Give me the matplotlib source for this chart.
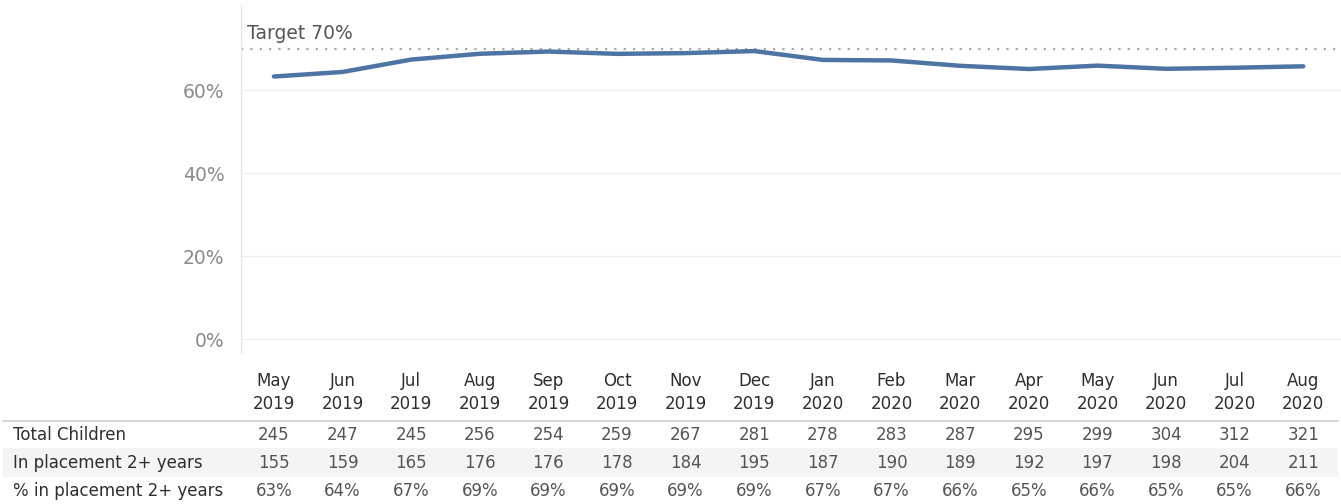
import matplotlib
matplotlib.use("Agg")
import matplotlib.pyplot as plt
import matplotlib.transforms as mtrans

months = ["May", "Jun", "Jul", "Aug", "Sep", "Oct", "Nov", "Dec",
          "Jan", "Feb", "Mar", "Apr", "May", "Jun", "Jul", "Aug"]
years = ["2019"] * 8 + ["2020"] * 8
total_children = [245, 247, 245, 256, 254, 259, 267, 281, 278, 283, 287, 295, 299, 304, 312, 321]
in_placement = [155, 159, 165, 176, 176, 178, 184, 195, 187, 190, 189, 192, 197, 198, 204, 211]
pct_placement = [63.27, 64.37, 67.35, 68.75, 69.29, 68.73, 68.91, 69.40,
                 67.27, 67.14, 65.85, 65.08, 65.89, 65.13, 65.38, 65.73]
pct_labels = ["63%", "64%", "67%", "69%", "69%", "69%", "69%", "69%",
              "67%", "67%", "66%", "65%", "66%", "65%", "65%", "66%"]
target = 70
yticks = [0, 20, 40, 60]

plt.rcParams['font.family'] = ['DejaVu Sans']

W, H = 1341, 504
fig = plt.figure(figsize=(W / 100, H / 100), dpi=100)

def fy(py):
    return 1 - py / H

ax = fig.add_axes([241 / W, fy(352), 1 - 241 / W, fy(5) - fy(352)])
x = list(range(len(months)))
ax.set_xlim(-0.48, 15.55)
ax.set_ylim(-3.1, 80.5)

for t in yticks:
    ax.axhline(t, color="#efefef", lw=1, zorder=0)
ax.axhline(target, color="#a8a8a8", lw=1.6, ls=(0, (1, 3.2)), zorder=1)
ax.plot(x, pct_placement, color="#4e74a4", lw=3.2, solid_capstyle="round", zorder=3)

ax.text(0.005, 71.4, "Target 70%", transform=mtrans.blended_transform_factory(ax.transAxes, ax.transData),
        fontsize=13.5, color="#555555", ha="left", va="bottom")

ax.set_yticks(yticks)
ax.set_yticklabels([f"{t}%" for t in yticks], fontsize=13.5, color="#8a8a8a")
ax.tick_params(axis="y", length=0, pad=12)
ax.set_xticks([])
for s in ["top", "right", "bottom"]:
    ax.spines[s].set_visible(False)
ax.spines["left"].set_color("#e6e6e6")
ax.spines["left"].set_linewidth(1)

# table below
trans = mtrans.blended_transform_factory(ax.transData, fig.transFigure)
hdr_color = "#2e2e2e"
num_color = "#555555"
fs = 12
for i in range(len(months)):
    fig.text(i, fy(381), months[i], transform=trans, ha="center", va="center", fontsize=fs, color=hdr_color)
    fig.text(i, fy(404), years[i], transform=trans, ha="center", va="center", fontsize=fs, color=hdr_color)
    fig.text(i, fy(435), str(total_children[i]), transform=trans, ha="center", va="center", fontsize=fs, color=num_color)
    fig.text(i, fy(463), str(in_placement[i]), transform=trans, ha="center", va="center", fontsize=fs, color=num_color)
    fig.text(i, fy(491), pct_labels[i], transform=trans, ha="center", va="center", fontsize=fs, color=num_color)

# separator and band
fig.add_artist(plt.Line2D([3 / W, 1338 / W], [fy(421), fy(421)], transform=fig.transFigure, color="#cfcfcf", lw=1.2))
fig.add_artist(plt.Rectangle((3 / W, fy(477)), 1335 / W, (fy(448) - fy(477)), transform=fig.transFigure,
                             color="#f4f4f4", zorder=0, lw=0))

row_labels = ["Total Children", "In placement 2+ years", "% in placement 2+ years"]
for lbl, py in zip(row_labels, [435, 463, 491]):
    fig.text(13 / W, fy(py), lbl, ha="left", va="center", fontsize=fs, color="#2e2e2e")

fig.savefig("out.png", dpi=100)
